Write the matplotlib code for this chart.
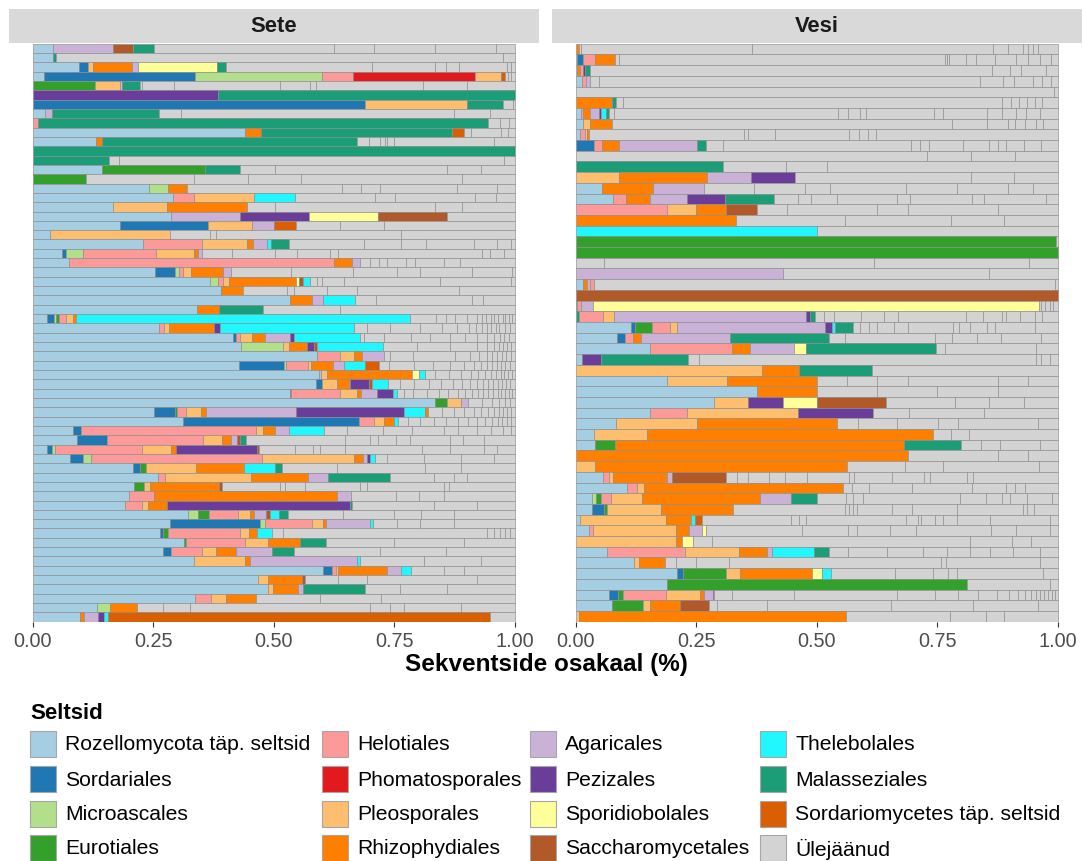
import matplotlib
matplotlib.use("Agg")
import matplotlib.pyplot as plt
from matplotlib.patches import Rectangle

plt.rcParams['font.family'] = ['Liberation Sans', 'DejaVu Sans']

# ---- categories (legend order) ----
order_codes = ["R", "So", "Mi", "Eu", "He", "Ph", "Pl", "Rh", "Ag", "Pe", "Sp", "Sa", "Th", "Ma", "Sd", "U"]
order_names = ["Rozellomycota täp. seltsid", "Sordariales", "Microascales", "Eurotiales",
               "Helotiales", "Phomatosporales", "Pleosporales", "Rhizophydiales",
               "Agaricales", "Pezizales", "Sporidiobolales", "Saccharomycetales",
               "Thelebolales", "Malasseziales", "Sordariomycetes täp. seltsid", "Ülejäänud"]
order_colors = ["#A6CEE3", "#1F78B4", "#B2DF8A", "#33A02C", "#FB9A99", "#E31A1C", "#FDBF6F", "#FF7F00",
                "#CAB2D6", "#6A3D9A", "#FFFF99", "#B15928", "#20F7FF", "#1B9E77", "#D95F02", "#D3D3D3"]

panel_titles = ["Sete", "Vesi"]
x_ticks = [0.0, 0.25, 0.5, 0.75, 1.0]
x_tick_labels = ["0.00", "0.25", "0.50", "0.75", "1.00"]
x_title = "Sekventside osakaal (%)"
legend_title = "Seltsid"

# ---- per-sample OTU segments (order code followed by that order's OTU shares), top to bottom ----
sete_rows = [
    "R .043 Ag .123 Sa .042 Ma .043 U .375 .083 .125 .127 .039",
    "R .042 Ma .006 U .929 .023",
    "R .096 So .019 Pl .010 Rh .081 Ag .012 Sp .165 Ma .019 U .302 .130 .023 .028 .099 .008 .008",
    "R .024 So .313 Mi .265 He .064 Ph .252 Pl .054 Sd .010 U .005 .006 .008",
    "Eu .130 Pl .050 Ag .006 Ma .036 U .004 .066 .220 .062 .014 .222 .091 .098",
    "Pe .384 Ma .616",
    "So .690 Pl .211 Ma .075 U .021 .003",
    "R .026 Ag .015 Ma .222 U .044 .567 .075 .051",
    "He .012 Ma .932 U .025 .019 .011",
    "R .441 Rh .033 Ma .397 Sd .026 U .014 .062 .014 .014",
    "R .132 Rh .012 Ma .530 U .025 .022 .011 .004 .014 .209 .042",
    "Ma 1.0",
    "Ma .158 U .022 .798 .022",
    "R .143 Eu .215 Ma .072 U .073 .357 .071 .069",
    "Eu .111 U .223 .112 .111 .334 .109",
    "R .240 Mi .040 Rh .040 U .321 .040 .039 .159 .082 .037",
    "R .292 He .042 Pl .125 Th .085 U .166 .042 .167 .042 .039",
    "R .166 Pl .112 Rh .167 U .057 .332 .057 .109",
    "R .286 Ag .143 Pe .143 Sp .143 Sa .143 U .141",
    "R .181 So .183 Pl .090 Ag .046 Sd .046 U .092 .090 .271",
    "R .035 Pl .251 U .083 .012 .384 .235",
    "R .229 He .123 Pl .092 Rh .014 Ag .029 Th .007 Ma .037 U .157 .076 .052 .100 .048 .028 .008",
    "R .061 So .008 Mi .036 He .151 Pl .078 Rh .008 Ag .009 U .062 .090 .045 .069 .015 .300 .017 .028 .022",
    "R .076 He .548 Rh .038 Ag .017 U .021 .017 .017 .040 .019 .059 .035 .112",
    "R .254 So .042 Mi .007 He .009 Pl .017 Rh .066 Ag .017 U .123 .130 .091 .048 .107 .083 .005",
    "R .368 Mi .015 He .011 Pl .012 Rh .139 Sp .006 Sa .009 Th .014 U .015 .010 .045 .199 .147 .008",
    "R .391 Rh .046 U .090 .014 .069 .062 .211 .116",
    "R .535 Rh .045 Ag .022 Th .066 U .045 .199 .023 .065",
    "R .341 Rh .046 Ma .091 U .159 .363",
    "R .029 So .015 Mi .004 Eu .007 He .014 Pl .014 Rh .007 Th .694 U .054 .021 .019 .024 .021 .010 .008 .012 .006 .008 .010 .005 .007 .006 .006",
    "R .259 He .010 Pl .012 Rh .091 Pe .012 Th .276 U .026 .048 .062 .045 .030 .025 .015 .012 .010 .008 .010 .008 .011 .010 .010",
    "R .416 So .007 He .007 Pl .026 Rh .026 Ag .052 Pe .009 Th .137 U .008 .042 .055 .040 .043 .030 .025 .020 .015 .012 .010 .010 .011",
    "R .433 Mi .086 Pl .012 Rh .038 Pe .015 Sa .006 Th .137 U .071 .069 .055 .020 .015 .010 .010 .008 .008 .007",
    "R .591 He .046 Pl .030 Rh .017 Ag .046 U .012 .048 .087 .030 .020 .015 .012 .010 .010 .008 .010 .008",
    "R .429 So .093 Mi .004 He .045 Pl .008 Rh .044 Ag .024 Th .044 Sd .028 U .021 .052 .040 .035 .030 .020 .015 .012 .010 .010 .008 .010 .010 .009",
    "R .594 Ag .005 Pl .012 Rh .177 Sp .014 Th .012 U .020 .030 .025 .020 .015 .015 .012 .010 .010 .008 .008 .007 .006",
    "R .589 So .012 Pl .031 Rh .024 Ag .003 Pe .040 Sa .005 Th .033 U .025 .030 .030 .025 .025 .020 .015 .015 .012 .012 .010 .010 .008 .008 .008 .010",
    "R .545 Sa .003 He .104 Pl .035 Rh .009 Ag .033 Pe .035 Th .007 U .015 .020 .030 .025 .020 .020 .015 .015 .012 .012 .010 .010 .010 .008 .008 .008 .006 .006",
    "R .836 Eu .023 Pl .030 Ag .014 U .030 .020 .015 .012 .010 .010",
    "R .251 So .045 Eu .003 He .019 Pl .032 Rh .010 Ag .188 Pe .223 Th .045 Rh .005 U .030 .025 .020 .020 .015 .015 .012 .010 .010 .008 .008 .007",
    "R .311 So .367 He .030 Pl .021 Rh .021 Th .008 U .020 .025 .030 .025 .025 .020 .020 .015 .015 .012 .010 .010 .008 .007",
    "R .084 So .016 He .364 Pl .013 Rh .025 Ag .029 Th .073 U .048 .074 .060 .067 .028 .040 .030 .025 .015 .008",
    "R .091 So .064 He .199 Pl .039 Rh .019 Ag .012 Sa .006 Ma .012 U .206 .052 .017 .038 .028 .083 .028 .042 .064",
    "R .030 So .011 Mi .005 He .181 Pl .061 Rh .009 Pe .168 Sa .005 U .075 .037 .015 .052 .159 .059 .069 .028 .036",
    "R .078 So .026 Mi .017 He .355 Pl .190 Rh .019 Ag .009 Pe .006 Th .010 U .026 .076 .076 .069 .043",
    "R .208 So .014 Eu .013 Pl .104 Rh .100 Th .064 Ma .014 U .114 .184 .073 .112",
    "R .261 He .014 Pl .178 Rh .120 Ag .040 Ma .130 U .090 .042 .028 .098",
    "R .211 Eu .021 Pl .012 Rh .142 Sa .007 U .121 .010 .042 .114 .014 .159 .010 .137",
    "R .199 He .052 Rh .381 Ag .028 U .093 .048 .052 .147",
    "R .192 He .035 Pl .012 Rh .040 Pe .380 Ma .005 U .170 .090 .077",
    "R .322 Mi .022 Eu .021 He .061 Pl .024 Rh .009 Ag .026 Sa .007 Th .019 Ma .019 U .113 .107 .055 .069 .126",
    "R .285 So .187 Mi .009 He .098 Pl .022 Rh .008 Ag .091 Th .005 U .051 .048 .069 .126",
    "R .263 So .007 Eu .010 He .149 Pl .020 Rh .017 Th .030 U .024 .422 .015 .012 .010 .010 .010",
    "R .313 Eu .006 He .121 Pl .048 Rh .066 Ma .055 U .141 .145 .105",
    "R .271 So .016 He .065 Pl .028 Rh .042 Ag .075 Ma .044 U .180 .135 .143",
    "R .334 Pl .107 Rh .009 Ag .223 Th .007 U .132 .118 .070",
    "R .602 So .019 He .009 Pl .003 Rh .102 Ag .030 Th .020 U .068 .042 .105",
    "R .469 Pl .019 Rh .071 Sa .007 U .069 .059 .229 .078",
    "R .488 Pl .010 Rh .053 Ag .010 Ma .128 U .074 .097 .140",
    "R .336 He .034 Pl .031 Rh .063 U .133 .125 .278",
    "R .133 Mi .028 Rh .055 U .055 .055 .374 .042 .028 .118 .112",
    "R .098 Rh .009 Ag .029 Pe .012 Th .009 Sd .793 U .050",
]

vesi_rows = [
    "Rh .007 U .003 .354 .497 .031 .031 .010 .010 .010 .041",
    "R .002 So .014 He .024 Rh .041 U .009 .673 .004 .005 .035 .021 .038 .045 .024 .024 .024 .014",
    "R .003 Rh .006 He .006 Pe .005 Ma .009 U .836 .036 .024 .052 .024",
    "R .014 He .008 Ag .008 U .019 .789 .048 .024 .038 .019 .019 .014",
    "U .992 .008",
    "Rh .075 Ma .009 U .015 .786 .017 .018 .015 .017 .016 .032",
    "R .012 He .003 Rh .015 Ag .018 Pe .005 Th .009 Ma .007 U .010 .464 .021 .026 .011 .143 .017 .093 .031 .028 .021 .028 .038",
    "R .016 Pl .014 Rh .045 U .707 .072 .044 .014 .021 .024 .015 .030",
    "R .009 He .010 Pl .005 Rh .003 U .321 .009 .055 .155 .019 .019 .017 .377",
    "So .037 He .017 Rh .036 Ag .161 Ma .019 U .035 .392 .017 .019 .070 .054 .019 .017 .038 .035 .035",
    "U .729 .092 .090 .090",
    "Ma .305 U .131 .086 .479",
    "Pl .090 Rh .183 Ag .091 Pe .091 U .365 .090 .090",
    "R .054 Rh .106 Ag .106 U .104 .105 .052 .158 .106 .106 .052 .052",
    "R .078 He .026 Rh .050 Ag .077 Pe .078 Ma .102 U .050 .026 .054 .126 .026 .129 .024 .130 .024",
    "He .189 Pl .062 Rh .061 Sa .064 U .064 .187 .064 .187 .124",
    "Rh .334 U .225 .221 .111 .111",
    "Th .501 U .500",
    "Eu .996 U .004",
    "Eu 1.0",
    "U .059 .560 .323 .059",
    "Ag .430 U .428 .142",
    "R .016 Rh .008 Ag .006 He .007 U .958 .005",
    "Sa 1.0",
    "Ma .003 He .007 Ag .025 Sp .926 U .005 .007 .010 .007 .010",
    "Ma .006 He .050 Pl .023 Ag .399 Pe .008 Ma .010 U .019 .021 .057 .048 .028 .142 .035 .040 .008 .029 .030 .016 .032",
    "R .116 So .007 Eu .036 He .037 Pl .014 Ag .309 Pe .015 Th .005 Ma .037 U .015 .019 .017 .035 .030 .092 .014 .022 .035 .017 .083 .048",
    "R .085 So .017 He .017 Rh .017 Ag .185 Ma .204 U .034 .187 .035 .052 .050 .083 .035",
    "R .154 He .171 Rh .037 Ag .091 Sp .025 Ma .271 U .019 .189 .045",
    "R .012 Pe .040 Ma .181 U .023 .697 .012 .017 .017",
    "Pl .386 Rh .077 Ma .153 U .385",
    "R .189 Pl .124 Rh .188 U .062 .062 .064 .187 .062 .062",
    "R .375 Rh .126 U .124 .125 .126 .124",
    "R .287 Pl .071 Pe .071 Sp .072 Sa .142 U .143 .071 .072 .071",
    "R .154 He .077 Pl .230 Pe .154 U .076 .155 .153",
    "R .084 Pl .167 Rh .290 U .044 .082 .084 .041 .167 .041",
    "R .038 Pl .111 Rh .593 U .038 .037 .185",
    "R .040 Eu .041 Rh .599 Ma .120 U .041 .039 .082 .038",
    "Rh .690 U .187 .062 .062",
    "Pl .040 Rh .522 U .120 .079 .200 .039",
    "R .056 He .012 Pl .010 Rh .112 Ag .010 Sa .111 U .024 .021 .044 .033 .046 .088 .010 .078 .066 .012 .078 .013 .175",
    "R .107 He .019 Pl .015 Rh .413 U .019 .035 .088 .126 .070 .019 .019 .069",
    "R .033 Mi .010 Eu .010 He .021 Pl .064 Rh .245 Ag .064 Ma .053 U .061 .014 .022 .200 .054 .033 .017 .035 .053 .012",
    "R .033 So .026 Eu .006 Pl .111 Rh .149 U .233 .009 .008 .007 .073 .041 .093 .138 .007 .015 .050",
    "R .009 Pl .178 Rh .052 Th .008 Sd .015 U .185 .016 .015 .207 .024 .007 .028 .017 .030 .068 .123 .017",
    "R .028 He .008 Pl .173 Rh .026 Ag .027 Sp .008 U .200 .095 .019 .069 .053 .157 .052 .069 .017",
    "Pl .208 Rh .013 Sp .023 U .038 .536 .086 .041 .055",
    "R .064 He .162 Pl .112 Rh .057 Ag .010 Th .088 Ma .030 U .041 .079 .076 .048 .048 .041 .048 .055 .038",
    "R .122 Pl .010 Rh .054 U .023 .041 .068 .442 .009 .196 .037",
    "R .211 So .011 Eu .090 Pl .029 Rh .150 Sp .021 Th .019 U .131 .079 .031 .019 .180 .030",
    "R .189 Eu .623 U .171 .017",
    "R .069 So .019 Eu .010 He .088 Pl .072 Rh .007 Ag .019 Pe .003 U .037 .127 .213 .079 .048 .041 .040 .025 .018 .015 .012 .010 .010 .008 .008 .007 .007 .006",
    "R .075 Eu .064 Pl .015 Rh .062 Sa .060 U .016 .104 .257 .171 .135 .041",
    "Pl .006 Rh .555 U .217 .073 .039 .111",
]

color_of = dict(zip(order_codes, order_colors))


def parse(rows):
    out = []
    for r in rows:
        segs, cur = [], None
        for t in r.split():
            if t[0].isalpha():
                cur = t
            else:
                segs.append((cur, float(t)))
        out.append(segs)
    return out


W, H = 1083, 862
fig = plt.figure(figsize=(W / 100, H / 100), dpi=100)
fig.patch.set_facecolor("white")


def fx(px):
    return px / W


def fy(py):
    return 1 - py / H


panels = [(parse(sete_rows), 8.6, 538.6), (parse(vesi_rows), 551.6, 1082.0)]
top, bottom = 44.7, 622.7
EDGE = "#8c8c8c"

for (rows, x0, x1), title in zip(panels, panel_titles):
    ax = fig.add_axes([fx(x0), fy(bottom), fx(x1 - x0), (bottom - top) / H])
    n = len(rows)
    for i, segs in enumerate(rows):
        tot = sum(v for _, v in segs)
        left = 0.0
        for code, v in segs:
            w = v / tot
            ax.barh(i, w, left=left, height=1.0, color=color_of[code],
                    edgecolor=EDGE, linewidth=0.45)
            left += w
    ax.set_xlim(-0.05, 1.05)
    ax.set_ylim(n - 0.5, -0.5)
    for s in ax.spines.values():
        s.set_visible(False)
    ax.set_yticks([])
    ax.set_xticks(x_ticks)
    ax.set_xticklabels(x_tick_labels, fontsize=14.3, color="#4D4D4D")
    ax.tick_params(axis="x", length=3.8, width=0.8, color="#333333", pad=3)
    # strip
    fig.add_artist(Rectangle((fx(x0), fy(43.5)), fx(x1 - x0), (43.5 - 10) / H,
                             facecolor="#D9D9D9", edgecolor="none", transform=fig.transFigure))
    fig.text(fx((x0 + x1) / 2), fy(27), title, ha="center", va="center",
             fontsize=15.8, fontweight="bold", color="#1A1A1A")

fig.text(fx(546), fy(664), x_title, ha="center", va="center", fontsize=17.5,
         fontweight="bold", color="black")

# legend
fig.text(fx(30), fy(714), legend_title, ha="left", va="center", fontsize=16,
         fontweight="bold", color="black")
col_x = [30, 322, 530, 760]
row_y = [745, 780, 815, 849]
key_w, key_h = 26, 26
for k, (name, col) in enumerate(zip(order_names, order_colors)):
    c, r = k // 4, k % 4
    kx, ky = col_x[c], row_y[r]
    fig.add_artist(Rectangle((fx(kx), fy(ky + key_h / 2)), key_w / W, key_h / H,
                             facecolor=col, edgecolor="#a6a6a6", linewidth=0.8,
                             transform=fig.transFigure))
    fig.text(fx(kx + key_w + 9), fy(ky), name, ha="left", va="center",
             fontsize=15.2, color="black")

fig.savefig("out.png", dpi=100, facecolor="white")
